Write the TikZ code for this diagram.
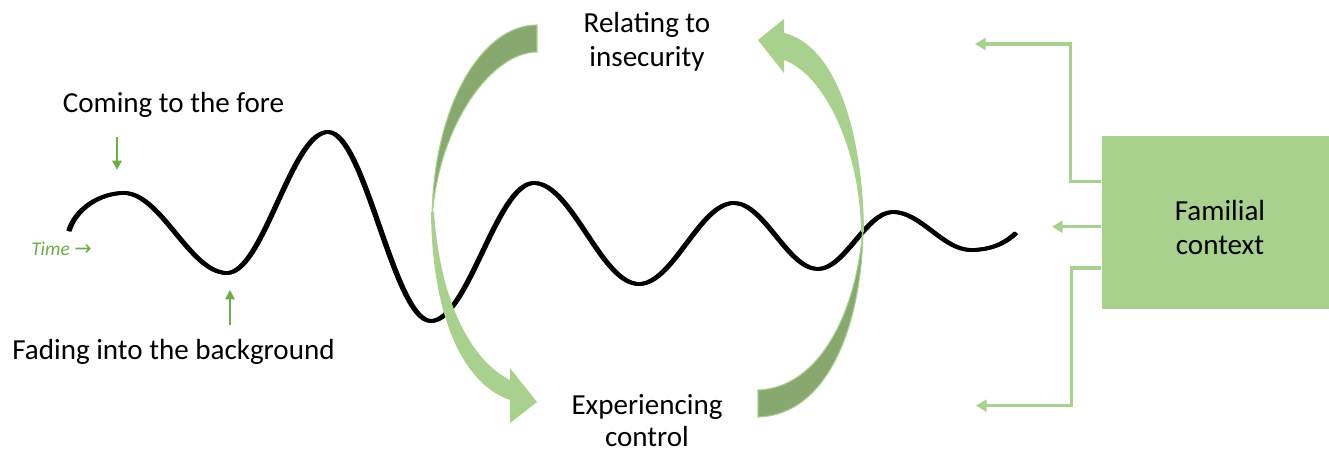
\documentclass[tikz,border=0pt]{standalone}
\usepackage{fontspec}
\setmainfont{Carlito}
\newfontfamily\arrowglyph{DejaVu Sans}
\usetikzlibrary{arrows.meta}
\definecolor{leaf}{HTML}{A9D18E}
\definecolor{leafdark}{HTML}{87A96F}
\definecolor{stem}{HTML}{70AD47}
\begin{document}
\begin{tikzpicture}[x=0.75pt,y=-0.75pt,
  caption/.style={font=\fontsize{21.8pt}{25.5pt}\selectfont, inner sep=0pt, align=center},
  wave/.style={line width=2.7pt, black},
  pointer/.style={draw=stem, line width=1.5pt, -{Triangle[length=7pt,width=7pt]}},
  conn/.style={draw=leaf, line width=2.4pt, -{Triangle[length=8pt,width=9pt]}},
  fambox/.style={fill=leaf, inner sep=0pt, minimum width=177.45pt, minimum height=129.75pt},
  band/.style={fill=leafdark, draw=leaf, line width=0.8pt},
  blade/.style={fill=leaf}]
\useasboundingbox (0,0) rectangle (1329,452);

% the oscillating line, drawn with small horizontal offsets for a pen-like stroke
\foreach \s in {0,0.7,1.4}{
\draw[wave, xshift=\s pt] (68,231) .. controls (74,210) and (98,193) .. (123,193)
  .. controls (160,193) and (189,273) .. (226,273)
  .. controls (262.4,273) and (290.6,132) .. (327,132)
  .. controls (364,132) and (393,321) .. (430,321)
  .. controls (467,321) and (496,183) .. (533,183)
  .. controls (570.8,183) and (600.2,284) .. (638,284)
  .. controls (672.2,284) and (698.8,203) .. (733,203)
  .. controls (763.2,203) and (786.8,269) .. (817,269)
  .. controls (844,269) and (865,212) .. (892,212)
  .. controls (920,212) and (942,250) .. (970,250)
  .. controls (990,250) and (1005,243) .. (1015,233);
}

% left curved arrow: shaded tail band, then the light body with its head
\path[band] (537,25) .. controls (480,25) and (432,110) .. (432,222)
  .. controls (436,130) and (490,52) .. (537,52) -- cycle;
\path[blade] (431,212) .. controls (432,320) and (465,385) .. (510,400)
  -- (510,423) -- (537,402) -- (510,368) -- (510,380)
  .. controls (470,360) and (440,300) .. (434,212) -- cycle;

% right curved arrow
\path[band] (758,390) .. controls (820,388) and (858,310) .. (863,225)
  .. controls (863,320) and (830,415) .. (758,417) -- cycle;
\path[blade] (758,40) -- (784,19) -- (784,33)
  .. controls (835,45) and (863,130) .. (864,232) -- (861,232)
  .. controls (860,150) and (825,75) .. (784,60) -- (784,73) -- cycle;

% labels (multi-line labels are anchored on their last baseline)
\node[caption, anchor=base] (fore) at (173.5,113) {Coming to the fore};
\node[caption, anchor=base] (fade) at (173.5,360) {Fading into the background};
\node[caption, anchor=base] (insec) at (647,67) {Relating to\\insecurity};
\node[caption, anchor=base, font=\fontsize{21.8pt}{24pt}\selectfont] (ctrl) at (647,446.5) {Experiencing\\control};
\node[anchor=base west, inner sep=0pt, text=stem,
      font=\fontsize{14.6pt}{17pt}\selectfont\itshape] (time) at (31,256)
      {Time {\arrowglyph\upshape\fontsize{15.5pt}{17pt}\selectfont →}};

% pointers to a crest and a trough
\coordinate (foretail) at (117,137);
\coordinate (crest) at (117,170);
\coordinate (fadetail) at (230,325);
\coordinate (trough) at (230,290);
\draw[pointer] (foretail) -- (crest);
\draw[pointer] (fadetail) -- (trough);

% familial context box and its influences
\node[fambox] (fam) at (1220,222.5) {};
\node[caption, anchor=base] (famtext) at (1220,255) {Familial\\context};
\coordinate (up) at (975,44);
\coordinate (mid) at (1052,226.7);
\coordinate (down) at (976,405.7);
\draw[conn] ([yshift=30.6pt]fam.west) -- ++(-31,0) |- (up);
\draw[conn] ([yshift=-3.15pt]fam.west) -- (mid);
\draw[conn] ([yshift=-34.1pt]fam.west) -- ++(-30,0) |- (down);
\end{tikzpicture}
\end{document}
